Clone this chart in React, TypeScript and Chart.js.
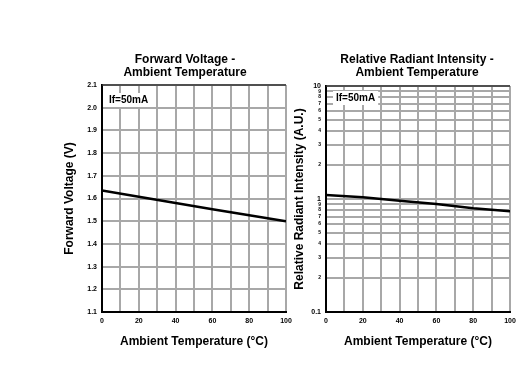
import React, { useEffect, useRef } from 'react';
import { Chart, registerables } from 'chart.js';
Chart.register(...registerables);

const FONT = '"Liberation Sans", Arial, Helvetica, sans-serif';

const temps = [0, 20, 40, 60, 80, 100];
const forwardVoltage = [1.635, 1.608, 1.58, 1.553, 1.526, 1.5];
const relIntensity = [1.085, 1.035, 0.966, 0.904, 0.83, 0.78];

const xTickValues = [0, 10, 20, 30, 40, 50, 60, 70, 80, 90, 100];
const xTickLabels = ['0', '', '20', '', '40', '', '60', '', '80', '', '100'];

const vTickValues = [1.1, 1.2, 1.3, 1.4, 1.5, 1.6, 1.7, 1.8, 1.9, 2.0, 2.1];
const vTickLabels = ['1.1', '1.2', '1.3', '1.4', '1.5', '1.6', '1.7', '1.8', '1.9', '2.0', '2.1'];

const iTickValues = [0.1, 0.2, 0.3, 0.4, 0.5, 0.6, 0.7, 0.8, 0.9, 1, 2, 3, 4, 5, 6, 7, 8, 9, 10];
const iTickLabels = ['0.1', '2', '3', '4', '5', '6', '7', '8', '9', '1', '2', '3', '4', '5', '6', '7', '8', '9', '10'];
const iMajorLabels = ['0.1', '1', '10'];

const leftTitle = ['Forward Voltage -', 'Ambient Temperature'];
const rightTitle = ['Relative Radiant Intensity -', 'Ambient Temperature'];
const xAxisTitle = 'Ambient Temperature (°C)';
const leftYTitle = 'Forward Voltage (V)';
const rightYTitle = 'Relative Radiant Intensity (A.U.)';
const condition = 'If=50mA';

const GRID = '#a8a8a8';

const decor = {
  id: 'decor',
  beforeDatasetsDraw(chart: any, _args: any, opts: any) {
    const { ctx, chartArea: a } = chart;
    ctx.save();
    ctx.font = `bold 10px ${FONT}`;
    const w = ctx.measureText(opts.label).width;
    const x = a.left + opts.labelDx;
    const y = a.top + opts.labelDy;
    ctx.fillStyle = '#fff';
    ctx.fillRect(x - 3, y - 7, w + 6, 14);
    ctx.fillStyle = '#000';
    ctx.textAlign = 'left';
    ctx.textBaseline = 'middle';
    ctx.fillText(opts.label, x, y);
    ctx.restore();
  },
  afterDraw(chart: any, _args: any, opts: any) {
    const { ctx, chartArea: a } = chart;
    ctx.save();
    ctx.strokeStyle = '#333';
    ctx.lineWidth = 1.5;
    ctx.beginPath();
    ctx.moveTo(a.left, a.top);
    ctx.lineTo(a.right, a.top);
    ctx.stroke();
    ctx.fillStyle = '#000';
    ctx.font = `bold 12px ${FONT}`;
    ctx.textAlign = 'center';
    ctx.textBaseline = 'middle';
    opts.title.forEach((t: string, i: number) => ctx.fillText(t, opts.titleX, opts.titleY + i * 13));
    ctx.restore();
  },
};

function xScale() {
  return {
    type: 'linear',
    min: 0,
    max: 100,
    afterBuildTicks: (s: any) => {
      s.ticks = xTickValues.map((v) => ({ value: v }));
    },
    afterFit: (s: any) => {
      s.height = 63;
    },
    ticks: {
      autoSkip: false,
      maxRotation: 0,
      padding: 5,
      color: '#000',
      font: { family: FONT, size: 7, weight: 'bold' },
      callback: (_v: any, i: number) => xTickLabels[i],
    },
    grid: { color: GRID, lineWidth: 2, drawTicks: false },
    border: { color: '#000', width: 2 },
    title: {
      display: true,
      text: xAxisTitle,
      color: '#000',
      font: { family: FONT, size: 12, weight: 'bold' },
      padding: { top: 0, bottom: 26 },
    },
  };
}

function makeLeft(canvas: HTMLCanvasElement) {
  return new Chart(canvas, {
    type: 'line',
    data: {
      datasets: [
        {
          data: temps.map((t, i) => ({ x: t, y: forwardVoltage[i] })),
          borderColor: '#000',
          borderWidth: 2.5,
          pointRadius: 0,
          fill: false,
        },
      ],
    },
    plugins: [decor],
    options: {
      animation: false,
      responsive: false,
      maintainAspectRatio: false,
      layout: { padding: { left: 62, right: 239, top: 85, bottom: 0 } },
      plugins: {
        legend: { display: false },
        tooltip: { enabled: false },
        decor: { title: leftTitle, titleX: 185, titleY: 60, label: condition, labelDx: 7, labelDy: 15 },
      } as any,
      scales: {
        x: xScale() as any,
        y: {
          type: 'linear',
          min: 1.1,
          max: 2.1,
          afterBuildTicks: (s: any) => {
            s.ticks = vTickValues.map((v) => ({ value: v }));
          },
          afterFit: (s: any) => {
            s.width = 40;
          },
          ticks: {
            autoSkip: false,
            padding: 5,
            color: '#000',
            font: { family: FONT, size: 7, weight: 'bold' },
            callback: (_v: any, i: number) => vTickLabels[i],
          },
          grid: { color: GRID, lineWidth: 2, drawTicks: false },
          border: { color: '#000', width: 2 },
          title: {
            display: true,
            text: leftYTitle,
            color: '#000',
            font: { family: FONT, size: 12, weight: 'bold' },
            padding: { top: 0, bottom: 0 },
          },
        } as any,
      },
    },
  });
}

function makeRight(canvas: HTMLCanvasElement) {
  return new Chart(canvas, {
    type: 'line',
    data: {
      datasets: [
        {
          data: temps.map((t, i) => ({ x: t, y: relIntensity[i] })),
          borderColor: '#000',
          borderWidth: 2.5,
          pointRadius: 0,
          fill: false,
        },
      ],
    },
    plugins: [decor],
    options: {
      animation: false,
      responsive: false,
      maintainAspectRatio: false,
      layout: { padding: { left: 292, right: 15, top: 86, bottom: 0 } },
      plugins: {
        legend: { display: false },
        tooltip: { enabled: false },
        decor: { title: rightTitle, titleX: 417, titleY: 60, label: condition, labelDx: 10, labelDy: 12 },
      } as any,
      scales: {
        x: xScale() as any,
        y: {
          type: 'logarithmic',
          min: 0.1,
          max: 10,
          afterBuildTicks: (s: any) => {
            s.ticks = iTickValues.map((v, i) => ({ value: v, big: iMajorLabels.includes(iTickLabels[i]) }));
          },
          afterFit: (s: any) => {
            s.width = 34;
          },
          ticks: {
            autoSkip: false,
            padding: 5,
            color: '#000',
            font: (c: any) => ({ family: FONT, size: c.tick && c.tick.big ? 7 : 5, weight: 'bold' }),
            callback: (_v: any, i: number) => iTickLabels[i],
          },
          grid: { color: GRID, lineWidth: 2, drawTicks: false },
          border: { color: '#000', width: 2 },
          title: {
            display: true,
            text: rightYTitle,
            color: '#000',
            font: { family: FONT, size: 12, weight: 'bold' },
            padding: { top: 0, bottom: 0 },
          },
        } as any,
      },
    },
  });
}

export default function App() {
  const leftRef = useRef<HTMLCanvasElement>(null);
  const rightRef = useRef<HTMLCanvasElement>(null);
  useEffect(() => {
    const a = makeLeft(leftRef.current!);
    const b = makeRight(rightRef.current!);
    return () => {
      a.destroy();
      b.destroy();
    };
  }, []);
  const cs: React.CSSProperties = { position: 'absolute', left: 0, top: 0, width: 525, height: 375 };
  return (
    <div style={{ position: 'absolute', left: 0, top: 0, width: 525, height: 375, background: '#fff' }}>
      <canvas ref={leftRef} width={525} height={375} style={cs} />
      <canvas ref={rightRef} width={525} height={375} style={cs} />
    </div>
  );
}
